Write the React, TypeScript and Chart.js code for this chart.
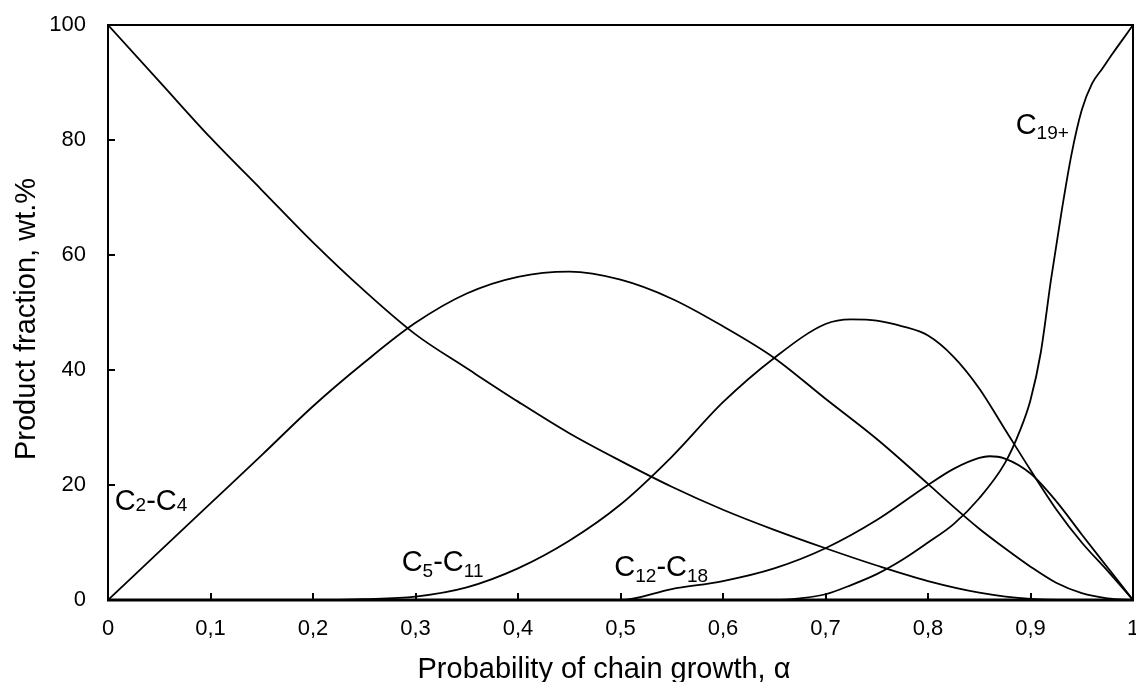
import React, { useEffect, useRef } from 'react';
import { Chart, registerables } from 'chart.js';

Chart.register(...registerables);

const FONT = "'Liberation Sans', Arial, Helvetica, sans-serif";

// x axis ticks (probability of chain growth)
const xTickValues = [0, 0.1, 0.2, 0.3, 0.4, 0.5, 0.6, 0.7, 0.8, 0.9, 1];
const xTickLabels = ['0', '0,1', '0,2', '0,3', '0,4', '0,5', '0,6', '0,7', '0,8', '0,9', '1'];
const yTickValues = [0, 20, 40, 60, 80, 100];

// C1 (unlabelled falling curve)
const c1Alpha = [0, 0.05, 0.1, 0.15, 0.2, 0.25, 0.3, 0.35, 0.4, 0.45, 0.5, 0.55, 0.6, 0.65, 0.7, 0.75, 0.8, 0.85, 0.9, 0.95, 1];
const c1Values = [100, 90.2, 80.4, 71.3, 62.2, 53.8, 46.2, 40.3, 34.5, 29.0, 24.2, 19.7, 15.7, 12.2, 9.0, 6.0, 3.3, 1.3, 0.2, 0, 0];

// C2-C4
const c2c4Alpha = [0, 0.05, 0.1, 0.15, 0.2, 0.25, 0.3, 0.35, 0.4, 0.45, 0.5, 0.55, 0.6, 0.65, 0.7, 0.75, 0.8, 0.825, 0.85, 0.875, 0.9, 0.925, 0.95, 0.975, 1];
const c2c4Values = [0, 8.4, 16.8, 25.2, 33.7, 41.3, 48.2, 53.3, 56.2, 57.1, 55.7, 52.4, 47.6, 42.1, 35.0, 28.0, 20.2, 16.2, 12.4, 9.0, 5.8, 3.0, 1.2, 0.3, 0];

// C5-C11
const c5c11Alpha = [0, 0.2, 0.25, 0.3, 0.35, 0.4, 0.45, 0.5, 0.55, 0.6, 0.65, 0.7, 0.725, 0.75, 0.775, 0.8, 0.825, 0.85, 0.875, 0.9, 0.925, 0.95, 0.975, 1];
const c5c11Values = [0, 0, 0.15, 0.6, 2.2, 5.5, 10.3, 16.6, 24.9, 34.4, 42.1, 48.0, 48.8, 48.6, 47.6, 46.0, 42.3, 36.8, 29.7, 22.6, 15.8, 10.0, 5.1, 0];

// C12-C18
const c12c18Alpha = [0, 0.5, 0.55, 0.6, 0.65, 0.7, 0.75, 0.8, 0.825, 0.85, 0.86, 0.875, 0.9, 0.925, 0.95, 0.975, 1];
const c12c18Values = [0, 0, 1.9, 3.3, 5.5, 9.0, 13.9, 20.0, 22.8, 24.7, 25.0, 24.6, 22.0, 17.2, 11.4, 5.7, 0];

// C19+
const c19Alpha = [0, 0.65, 0.675, 0.7, 0.725, 0.75, 0.775, 0.8, 0.825, 0.85, 0.875, 0.89, 0.9, 0.91, 0.92, 0.93, 0.94, 0.95, 0.96, 0.97, 0.98, 0.99, 1];
const c19Values = [0, 0, 0.3, 1.0, 2.6, 4.5, 7.0, 10.0, 13.2, 17.7, 23.8, 29.6, 34.8, 43.0, 55.7, 67.2, 77.5, 85.2, 89.8, 92.4, 95.0, 97.5, 100];

const seriesNames = ['C1', 'C2-C4', 'C5-C11', 'C12-C18', 'C19+'];
const seriesAlpha = [c1Alpha, c2c4Alpha, c5c11Alpha, c12c18Alpha, c19Alpha];
const seriesValues = [c1Values, c2c4Values, c5c11Values, c12c18Values, c19Values];

// in-plot curve labels: text parts [text, isSubscript], anchored at data coords (alpha, value) = left/baseline
const curveLabels = [
  { parts: [['C', false], ['2', true], ['-C', false], ['4', true]], alpha: 0.0065, value: 15.6, drop: 1 },
  { parts: [['C', false], ['5', true], ['-C', false], ['11', true]], alpha: 0.2865, value: 5.1, drop: 6 },
  { parts: [['C', false], ['12', true], ['-C', false], ['18', true]], alpha: 0.494, value: 4.1, drop: 6 },
  { parts: [['C', false], ['19+', true]], alpha: 0.8855, value: 81.0, drop: 5 },
];

const xTitle = 'Probability of chain growth, α';
const yTitle = 'Product fraction, wt.%';

const decorPlugin = {
  id: 'decor',
  afterDraw(chart: any) {
    const { ctx, chartArea, scales } = chart;
    const { left, right, top, bottom } = chartArea;
    const xs = scales.x;
    const ys = scales.y;
    ctx.save();
    ctx.strokeStyle = '#000';
    ctx.fillStyle = '#000';
    // frame
    ctx.lineWidth = 2;
    ctx.beginPath();
    ctx.moveTo(left, bottom);
    ctx.lineTo(left, top);
    ctx.lineTo(right, top);
    ctx.lineTo(right, bottom);
    ctx.stroke();
    ctx.lineWidth = 3;
    ctx.beginPath();
    ctx.moveTo(left - 1, bottom);
    ctx.lineTo(right + 1, bottom);
    ctx.stroke();
    // inner ticks
    ctx.lineWidth = 2;
    xTickValues.forEach((v) => {
      if (v === xTickValues[0] || v === xTickValues[xTickValues.length - 1]) return;
      const px = Math.round(xs.getPixelForValue(v));
      ctx.beginPath();
      ctx.moveTo(px, bottom);
      ctx.lineTo(px, bottom - 7);
      ctx.stroke();
    });
    yTickValues.forEach((v) => {
      if (v === yTickValues[0] || v === yTickValues[yTickValues.length - 1]) return;
      const py = Math.round(ys.getPixelForValue(v));
      ctx.beginPath();
      ctx.moveTo(left, py);
      ctx.lineTo(left + 7, py);
      ctx.stroke();
    });
    // curve labels
    ctx.textAlign = 'left';
    ctx.textBaseline = 'alphabetic';
    curveLabels.forEach((lab) => {
      let cx = xs.getPixelForValue(lab.alpha);
      const by = ys.getPixelForValue(lab.value);
      lab.parts.forEach(([t, sub]: any) => {
        ctx.font = sub ? `19px ${FONT}` : `29px ${FONT}`;
        ctx.fillText(t, cx, by + (sub ? lab.drop : 0));
        cx += ctx.measureText(t).width;
      });
    });
    // axis titles
    ctx.font = `29px ${FONT}`;
    ctx.textAlign = 'center';
    ctx.textBaseline = 'alphabetic';
    ctx.fillText(xTitle, 604, 678);
    ctx.translate(35, 319);
    ctx.rotate(-Math.PI / 2);
    ctx.fillText(yTitle, 0, 0);
    ctx.restore();
  },
};

export default function App() {
  const canvasRef = useRef<HTMLCanvasElement | null>(null);

  useEffect(() => {
    const canvas = canvasRef.current;
    if (!canvas) return;
    Chart.defaults.font.family = FONT;
    const datasets = seriesNames.map((name, i) => ({
      label: name,
      data: seriesAlpha[i].map((a, j) => ({ x: a, y: seriesValues[i][j] })),
      borderColor: '#000',
      backgroundColor: '#000',
      borderWidth: 1.8,
      pointRadius: 0,
      pointHoverRadius: 0,
      fill: false,
      cubicInterpolationMode: 'monotone' as const,
    }));
    const chart = new Chart(canvas, {
      type: 'line',
      data: { datasets },
      options: {
        animation: false,
        responsive: false,
        maintainAspectRatio: false,
        layout: { padding: { top: 25, right: 3, left: 0, bottom: 0 } },
        plugins: {
          legend: { display: false },
          tooltip: { enabled: false },
        },
        scales: {
          x: {
            type: 'linear',
            min: 0,
            max: 1,
            afterBuildTicks: (scale: any) => {
              scale.ticks = xTickValues.map((v) => ({ value: v }));
            },
            afterFit: (scale: any) => {
              scale.height = 82;
              scale.paddingLeft = 0;
              scale.paddingRight = 0;
              scale.paddingTop = 0;
              scale.paddingBottom = 0;
            },
            ticks: {
              autoSkip: false,
              maxRotation: 0,
              minRotation: 0,
              padding: 16,
              color: '#000',
              font: { size: 22, family: FONT },
              callback: (_v: any, i: number) => xTickLabels[i],
            },
            grid: { display: false, drawTicks: false },
            border: { display: false },
          },
          y: {
            type: 'linear',
            min: 0,
            max: 100,
            afterBuildTicks: (scale: any) => {
              scale.ticks = yTickValues.map((v) => ({ value: v }));
            },
            afterFit: (scale: any) => {
              scale.width = 108;
              scale.paddingLeft = 0;
              scale.paddingRight = 0;
              scale.paddingTop = 0;
              scale.paddingBottom = 0;
            },
            ticks: {
              padding: 22,
              color: '#000',
              font: { size: 22, family: FONT },
              callback: (v: any) => String(v),
            },
            grid: { display: false, drawTicks: false },
            border: { display: false },
          },
        },
      },
      plugins: [decorPlugin],
    });
    return () => chart.destroy();
  }, []);

  return (
    <div style={{ position: 'absolute', left: 0, top: 0, width: 1136, height: 682, background: '#fff' }}>
      <canvas ref={canvasRef} width={1136} height={682} style={{ display: 'block' }} />
    </div>
  );
}
